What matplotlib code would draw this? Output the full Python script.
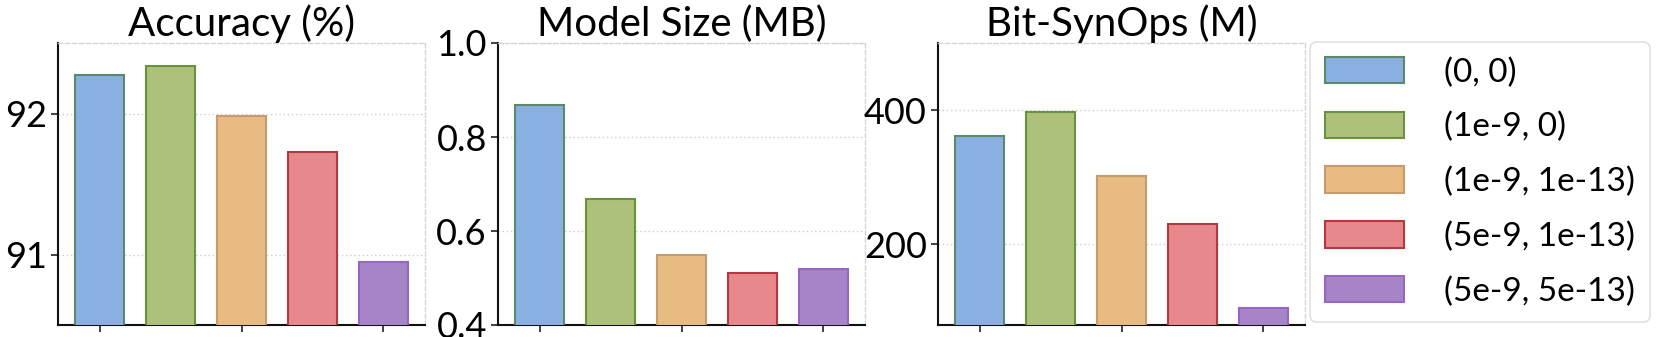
import matplotlib
matplotlib.use("Agg")
import matplotlib.pyplot as plt
from matplotlib.patches import Patch

plt.rcParams['font.family'] = ['Lato', 'DejaVu Sans']

labels = ["(0, 0)", "(1e-9, 0)", "(1e-9, 1e-13)", "(5e-9, 1e-13)", "(5e-9, 5e-13)"]
accuracy = [92.27, 92.34, 91.98, 91.73, 90.945]
model_size = [0.869, 0.669, 0.55, 0.51, 0.52]
bit_synops = [361, 397, 302, 230, 105]
titles = ["Accuracy (%)", "Model Size (MB)", "Bit-SynOps (M)"]

fills = ["#8AB0E2", "#ADC17A", "#E8BB82", "#E6888C", "#A784C7"]
edges = ["#5A8A6A", "#6A913C", "#C49C6E", "#B2393F", "#9468C2"]

W, H = 1661, 337
fig = plt.figure(figsize=(W / 100, H / 100), dpi=100)

panels = [
    (58, accuracy, (90.5, 92.5), [91, 92], ["91", "92"]),
    (498, model_size, (0.4, 1.0), [0.4, 0.6, 0.8, 1.0], ["0.4", "0.6", "0.8", "1.0"]),
    (938, bit_synops, (80, 500), [200, 400], ["200", "400"]),
]

for (left, vals, ylim, yt, ytl), title in zip(panels, titles):
    ax = fig.add_axes([left / W, 12 / H, 367 / W, 282 / H])
    x = list(range(len(vals)))
    ax.bar(x, vals, width=0.7, color=fills, edgecolor=edges, linewidth=1.5, zorder=3)
    ax.set_ylim(*ylim)
    ax.set_xlim(-0.585, 4.585)
    ax.set_yticks(yt)
    ax.set_yticklabels(ytl, fontsize=26)
    ax.set_xticks([0, 2, 4])
    ax.set_xticklabels([])
    ax.tick_params(axis='both', direction='out', length=5, width=1.2, color='#222222', pad=3)
    ax.yaxis.grid(True, linestyle=(0, (1, 2)), color='#CCCCCC', linewidth=1.0, zorder=0)
    for s in ['left', 'bottom']:
        ax.spines[s].set_color('#111111')
        ax.spines[s].set_linewidth(1.5)
    for s in ['top', 'right']:
        ax.spines[s].set_color('#D5D5D5')
        ax.spines[s].set_linestyle((0, (3, 2)))
        ax.spines[s].set_linewidth(1.0)
    ax.set_title(title, fontsize=29, pad=4)

handles = [Patch(facecolor=f, edgecolor=e, linewidth=1.5) for f, e in zip(fills, edges)]
leg = fig.legend(handles, labels, loc='upper left', bbox_to_anchor=(1310 / W, 1 - 42 / H),
                 fontsize=24, handlelength=2.37, handleheight=0.84, handletextpad=1.2,
                 labelspacing=0.72, borderpad=0.45, frameon=True, fancybox=True,
                 borderaxespad=0)
leg.get_frame().set_edgecolor('#D8D8D8')
leg.get_frame().set_linewidth(1.2)

fig.savefig("out.png", dpi=100)
